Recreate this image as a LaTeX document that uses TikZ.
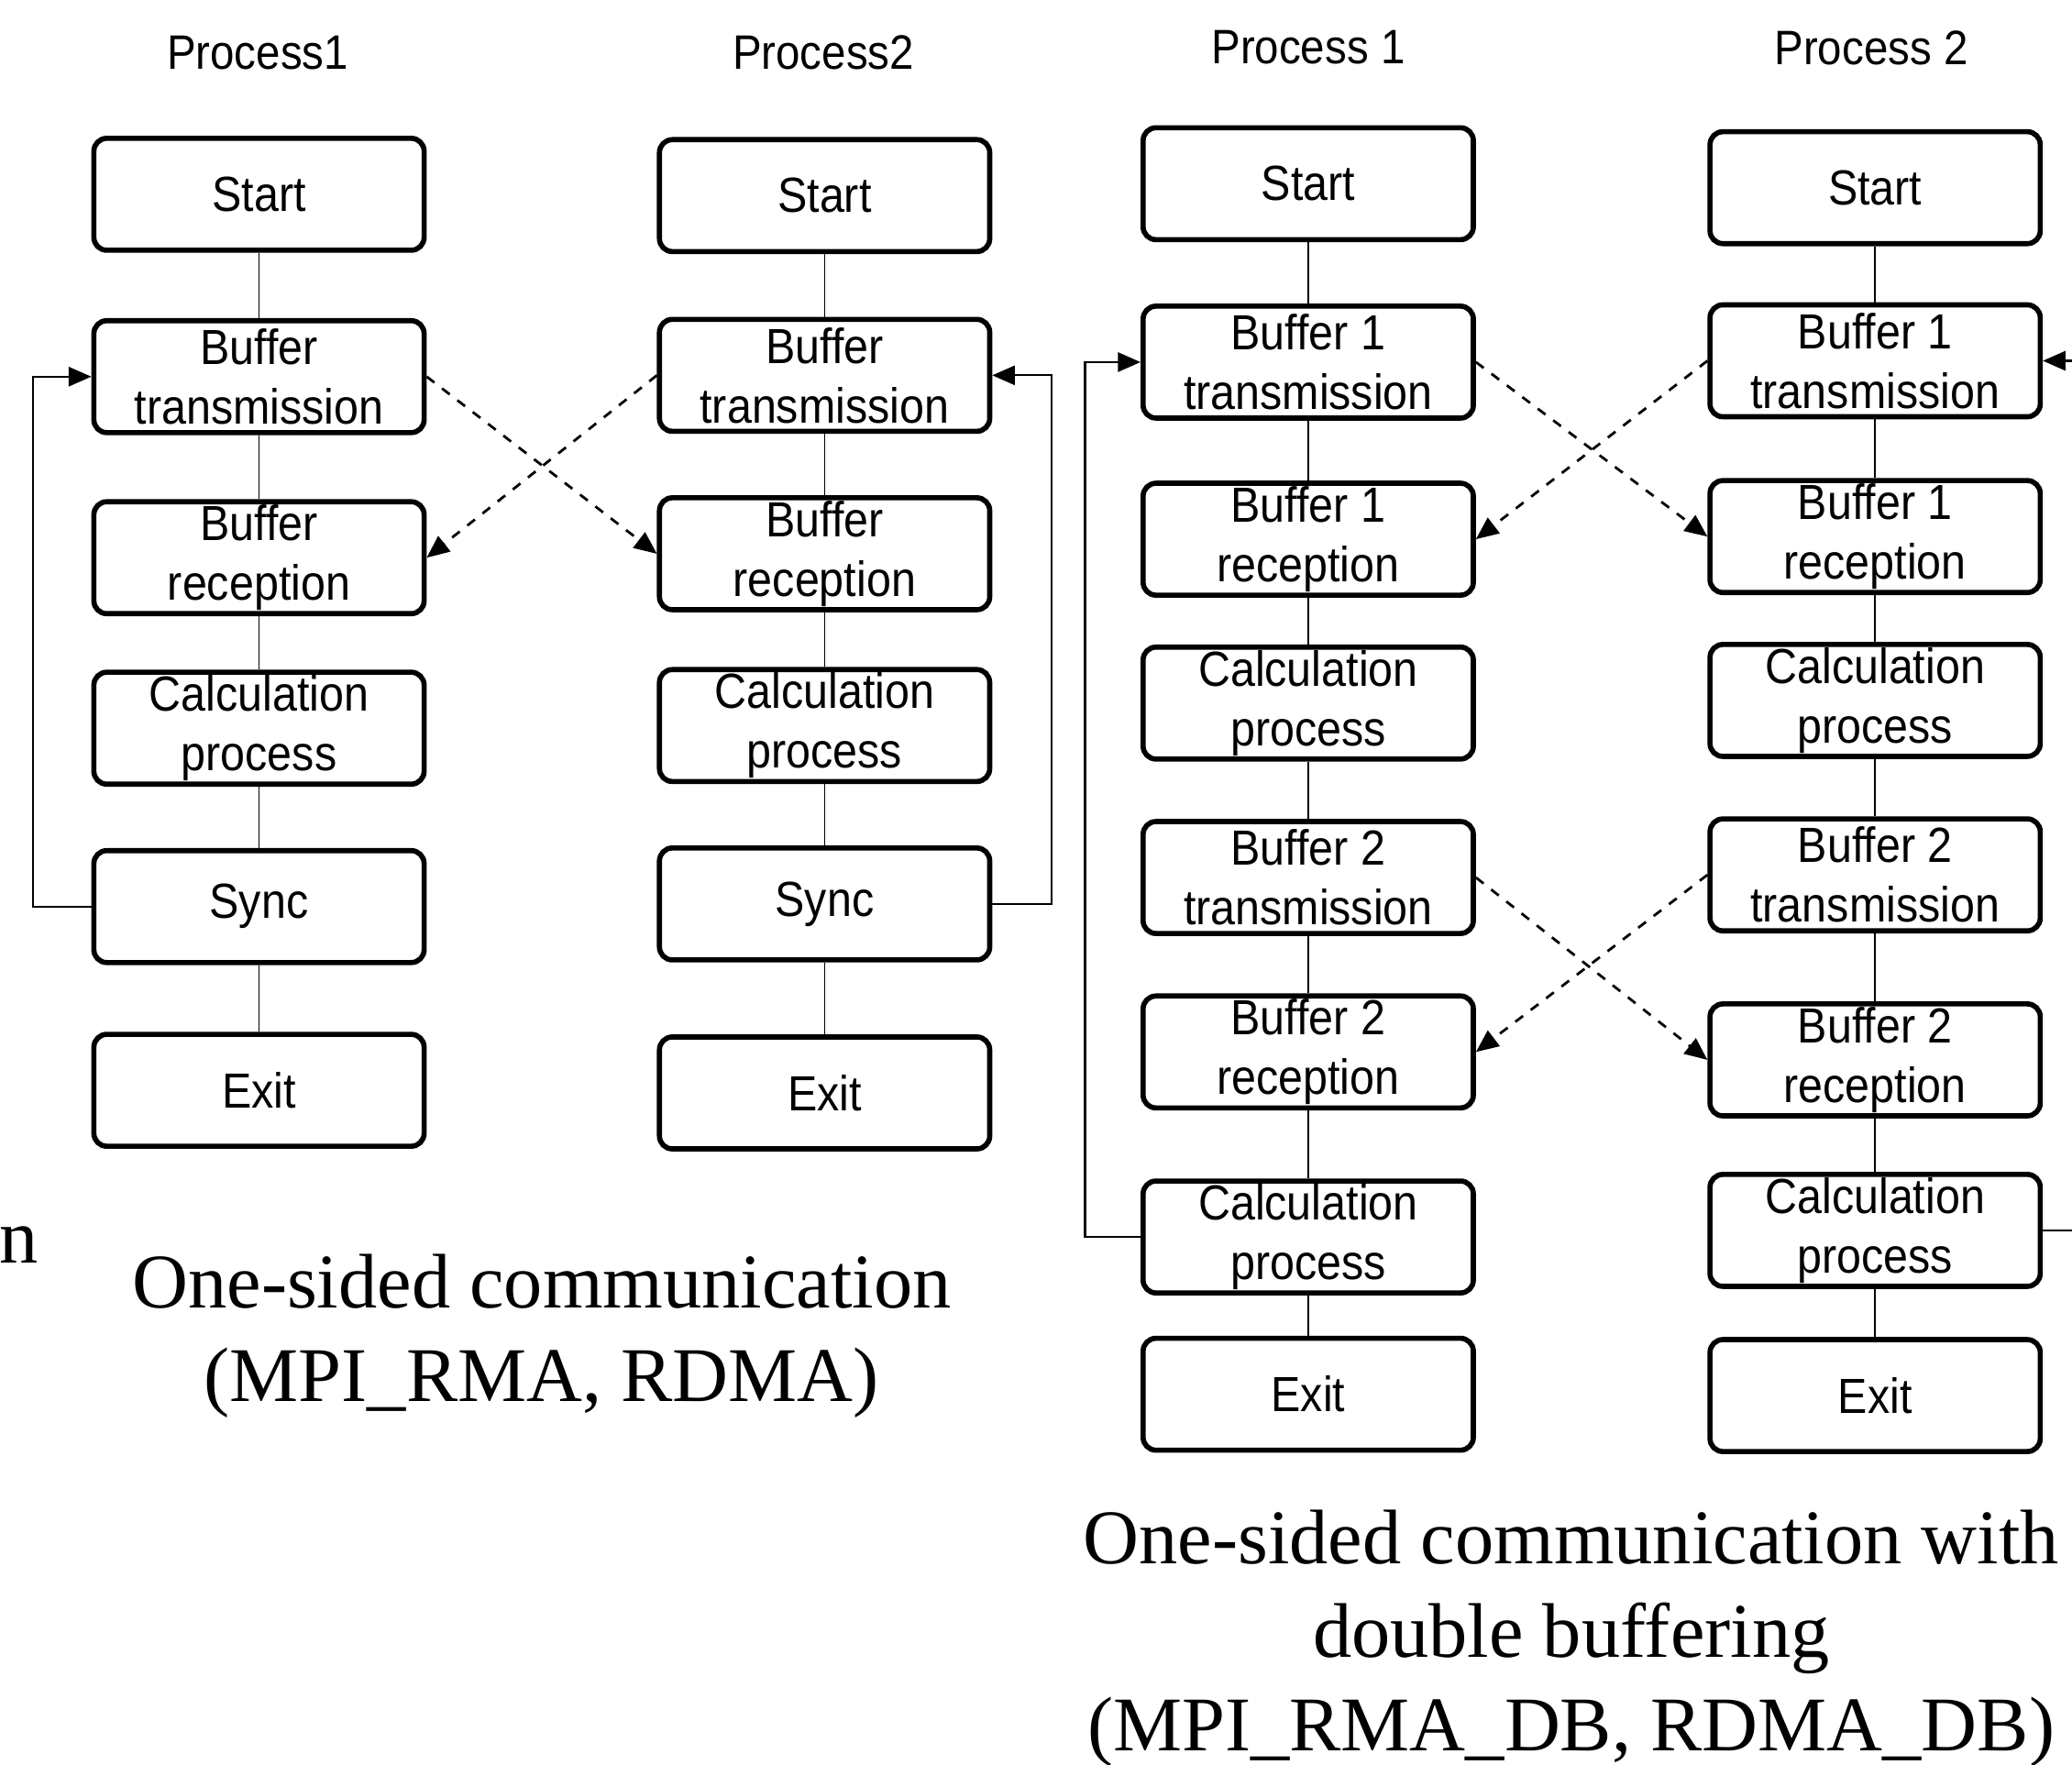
\documentclass[tikz,border=0pt]{standalone}
\usepackage{fontspec}
\setmainfont{Liberation Serif}
\newfontfamily\boxfont[FakeStretch=0.9]{Liberation Sans}
\usetikzlibrary{positioning,arrows.meta}

\begin{document}
\begin{tikzpicture}[x=0.0144cm, y=-0.0144cm,
    stepbox/.style={draw, line width=1.6pt, rounded corners=4pt, minimum width=3.6cm, minimum height=1.22cm, align=center, inner sep=0pt, font=\boxfont\fontsize{15.3}{18.5}\selectfont},
    proclabel/.style={font=\boxfont\fontsize{15}{18}\selectfont},
    link/.style={line width=0.5pt},
    back/.style={line width=0.6pt, -{Triangle[length=7pt,width=6pt]}},
    msg/.style={dashed, line width=0.8pt, -{Triangle[length=7pt,width=6pt]}},
    captext/.style={align=center, font=\fontsize{24}{29}\selectfont}]
    \useasboundingbox (0,0) rectangle (1568,1335);

    % one-sided communication, process 1
    \node[proclabel] (p1) at (195,40) {Process1};
    \node[stepbox] (p1start) at (196,147) {Start};
    \node[stepbox] (p1bt) at (196,285) {Buffer\\transmission};
    \node[stepbox] (p1br) at (196,422) {Buffer\\reception};
    \node[stepbox] (p1calc) at (196,551) {Calculation\\process};
    \node[stepbox] (p1sync) at (196,686) {Sync};
    \node[stepbox] (p1exit) at (196,825) {Exit};

    % one-sided communication, process 2
    \node[proclabel] (p2) at (623,40) {Process2};
    \node[stepbox] (p2start) at (624,148) {Start};
    \node[stepbox] (p2bt) at (624,284) {Buffer\\transmission};
    \node[stepbox] (p2br) at (624,419) {Buffer\\reception};
    \node[stepbox] (p2calc) at (624,549) {Calculation\\process};
    \node[stepbox] (p2sync) at (624,684) {Sync};
    \node[stepbox] (p2exit) at (624,827) {Exit};

    % double buffering, process 1
    \node[proclabel] (p3) at (990,36) {Process 1};
    \node[stepbox] (p3start) at (990,139) {Start};
    \node[stepbox] (p3b1t) at (990,274) {Buffer 1\\transmission};
    \node[stepbox] (p3b1r) at (990,408) {Buffer 1\\reception};
    \node[stepbox] (p3calc) at (990,532) {Calculation\\process};
    \node[stepbox] (p3b2t) at (990,664) {Buffer 2\\transmission};
    \node[stepbox] (p3b2r) at (990,796) {Buffer 2\\reception};
    \node[stepbox] (p3calc2) at (990,936) {Calculation\\process};
    \node[stepbox] (p3exit) at (990,1055) {Exit};

    % double buffering, process 2
    \node[proclabel] (p4) at (1416,36) {Process 2};
    \node[stepbox] (p4start) at (1419,142) {Start};
    \node[stepbox] (p4b1t) at (1419,273) {Buffer 1\\transmission};
    \node[stepbox] (p4b1r) at (1419,406) {Buffer 1\\reception};
    \node[stepbox] (p4calc) at (1419,530) {Calculation\\process};
    \node[stepbox] (p4b2t) at (1419,662) {Buffer 2\\transmission};
    \node[stepbox] (p4b2r) at (1419,802) {Buffer 2\\reception};
    \node[stepbox] (p4calc2) at (1419,931) {Calculation\\process};
    \node[stepbox] (p4exit) at (1419,1056) {Exit};

    \foreach \a/\b in {p1start/p1bt, p1bt/p1br, p1br/p1calc, p1calc/p1sync, p1sync/p1exit,
        p2start/p2bt, p2bt/p2br, p2br/p2calc, p2calc/p2sync, p2sync/p2exit,
        p3start/p3b1t, p3b1t/p3b1r, p3b1r/p3calc, p3calc/p3b2t, p3b2t/p3b2r, p3b2r/p3calc2, p3calc2/p3exit,
        p4start/p4b1t, p4b1t/p4b1r, p4b1r/p4calc, p4calc/p4b2t, p4b2t/p4b2r, p4b2r/p4calc2, p4calc2/p4exit}
        \draw[link] (\a) -- (\b);

    % loops back to the transmission
    \draw[back] (p1sync.west) -- ++(-44,0) |- (p1bt.west);
    \draw[back] (p2sync.east) -- ++(45,0) |- (p2bt.east);
    \draw[back] (p3calc2.west) -- ++(-42,0) |- (p3b1t.west);
    \coordinate (p4in) at (1568,273);
    \coordinate (p4out) at (1568,931);
    \draw[back] (p4in) -- (p4b1t.east);
    \draw[link, line width=0.6pt] (p4calc2.east) -- (p4out);

    % buffers sent to the other process
    \draw[msg] (p1bt.east) -- (p2br.west);
    \draw[msg] (p2bt.west) -- (p1br.east);
    \draw[msg] (p3b1t.east) -- (p4b1r.west);
    \draw[msg] (p4b1t.west) -- (p3b1r.east);
    \draw[msg] (p3b2t.east) -- (p4b2r.west);
    \draw[msg] (p4b2t.west) -- (p3b2r.east);

    \node[captext] (cut) at (14,942) {n};
    \node[captext] (cap1) at (410,1011) {One-sided communication\\(MPI\_RMA, RDMA)};
    \node[captext] (cap2) at (1189,1240) {One-sided communication with\\double buffering\\(MPI\_RMA\_DB, RDMA\_DB)};
\end{tikzpicture}
\end{document}
